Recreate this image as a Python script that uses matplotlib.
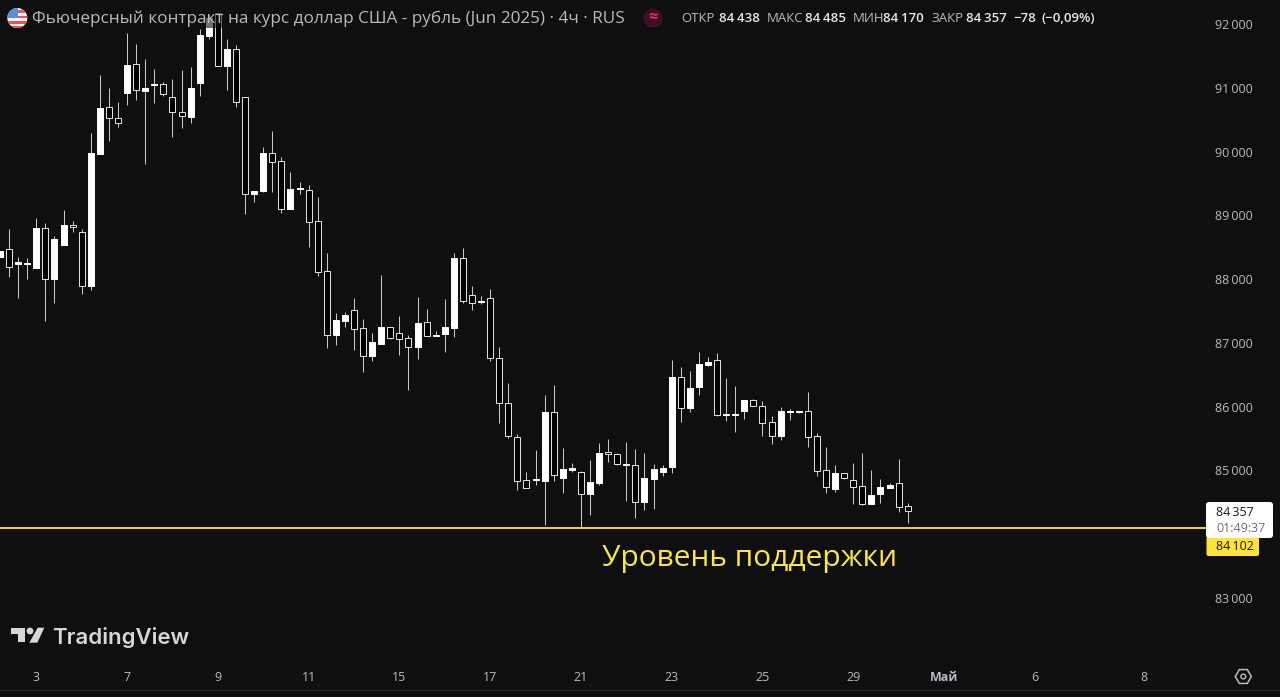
import numpy as np
import matplotlib
matplotlib.use("Agg")
import matplotlib.pyplot as plt
import matplotlib.patches as patches

# 4h candles
opens = [88341, 88466, 88242, 88242, 88169, 88796, 88007, 88534, 88843, 88733,
         87891, 89961, 90693, 90520, 90912, 91367, 90954, 91048, 91059, 90860,
         90620, 90547, 91080, 91817, 92167, 91346, 91613, 90850, 89329, 89381,
         89972, 89846, 89099, 89418, 89392, 88916, 88122, 87124, 87348, 87516,
         87228, 86799, 86982, 87244, 87150, 87076, 86930, 87333, 87108, 87139,
         87239, 88336, 87756, 87646, 87699, 86768, 86063, 85524, 84845, 84850,
         84839, 85921, 84881, 85007, 84975, 84625, 84808, 85284, 85258, 85080,
         85085, 84510, 84865, 84975, 85048, 86470, 85979, 86308, 86653, 86726,
         85869, 85869, 85926, 86104, 86005, 85754, 85545, 85911, 85911, 85932,
         85540, 85001, 84709, 84959, 84845, 84750, 84473, 84625, 84730, 84803,
         84438]
highs = [88446, 88791, 88351, 88336, 88958, 88874, 88676, 89083, 88906, 88791,
         90285, 91205, 90991, 90771, 91853, 91686, 91446, 91294, 91090, 91132,
         91278, 91331, 91916, 92141, 92177, 91765, 91670, 90850, 89386, 90076,
         90327, 89919, 89679, 89527, 89475, 89282, 88404, 87463, 87489, 87698,
         87374, 87150, 88059, 87244, 87421, 87118, 87714, 87526, 87186, 87688,
         88404, 88482, 87892, 87735, 87840, 86941, 86366, 85571, 84970, 85320,
         86183, 86334, 85347, 85122, 84986, 85164, 85425, 85488, 85268, 85446,
         85331, 85273, 85095, 85090, 86731, 86616, 86559, 86852, 86773, 86836,
         86449, 86324, 86104, 86115, 86094, 85853, 86000, 85958, 85937, 86235,
         85581, 85362, 85090, 84965, 85122, 85278, 85007, 84865, 84808, 85184,
         84485]
lows = [88341, 88027, 87709, 87996, 88169, 87348, 87620, 88534, 88743, 87766,
        87829, 89961, 90170, 90390, 90730, 90808, 89810, 90756, 90876, 90233,
        90374, 90442, 90876, 91759, 91336, 90965, 90703, 89020, 89203, 89371,
        89371, 89031, 89099, 89329, 88508, 88048, 86925, 86967, 87254, 86888,
        86543, 86716, 86982, 87056, 86815, 86261, 86742, 87108, 87108, 86862,
        87097, 87620, 87516, 87610, 86721, 85749, 85503, 84693, 84719, 84772,
        84150, 84839, 84641, 84975, 84118, 84301, 84772, 85137, 85085, 84520,
        84259, 84379, 84395, 84918, 84954, 85764, 85921, 86183, 86642, 85859,
        85780, 85608, 85806, 86010, 85540, 85414, 85477, 85791, 85900, 85362,
        84912, 84641, 84667, 84871, 84473, 84463, 84468, 84494, 84719, 84353,
        84170]
closes = [88446, 88184, 88268, 88252, 88801, 88007, 88634, 88843, 88811, 87891,
          89977, 90682, 90520, 90447, 91357, 90960, 90991, 91064, 90897, 90615,
          90562, 90991, 91822, 92089, 91336, 91613, 90771, 89334, 89381, 89972,
          89841, 89104, 89407, 89428, 88890, 88116, 87129, 87359, 87432, 87223,
          86799, 87009, 87249, 87082, 87066, 86930, 87306, 87113, 87124, 87249,
          88336, 87662, 87631, 87662, 86758, 86052, 85545, 84839, 84730, 84866,
          85921, 84923, 85017, 85038, 84625, 84819, 85268, 85252, 85096, 85101,
          84510, 84876, 85017, 85033, 86460, 85984, 86287, 86669, 86695, 85869,
          85885, 85885, 86099, 86015, 85744, 85545, 85937, 85926, 85926, 85529,
          84996, 84745, 84959, 84876, 84745, 84473, 84620, 84735, 84766, 84432,
          84357]

price_ticks = [83000, 85000, 86000, 87000, 88000, 89000, 90000, 91000, 92000]
price_labels = ["83\u2009000", "85\u2009000", "86\u2009000", "87\u2009000", "88\u2009000",
                "89\u2009000", "90\u2009000", "91\u2009000", "92\u2009000"]
date_ticks = [4, 14, 24, 34, 44, 54, 64, 74, 84, 94, 104, 114, 126]
date_labels = ["3", "7", "9", "11", "15", "17", "21", "23", "25", "29", "Май", "6", "8"]
support = 84102
last_close = "84\u2009357"
countdown = "01:49:37"
support_label = "84\u2009102"

BG = "#0f0f0f"
GREY = "#b8bbc4"
YELLOW = "#f9e64f"
plt.rcParams["font.family"] = ["Open Sans", "DejaVu Sans"]

W, H = 1280, 697
fig = plt.figure(figsize=(W / 100, H / 100), dpi=100, facecolor=BG)

# chart pane stops at the price scale (x=1206) and the time scale (y=660)
ax = fig.add_axes([0, (H - 660) / H, 1206 / W, 660 / H], facecolor=BG)
ax.set_xlim(0, 1206 / 9.077)
ax.set_ylim(92376 - 660 * 15.68, 92376)
for spine in ax.spines.values():
    spine.set_visible(False)

x = np.arange(len(opens))
o = np.array(opens)
c = np.array(closes)
up = c >= o
bottoms = np.minimum(o, c)
heights = np.abs(c - o)

ax.vlines(x, lows, highs, color="#c8c8c8", lw=0.72, zorder=2)
ax.bar(x[up], heights[up], bottom=bottoms[up], width=0.66, color="white",
       edgecolor="white", linewidth=0.7, zorder=3)
ax.bar(x[~up], heights[~up], bottom=bottoms[~up], width=0.66, color="black",
       edgecolor="#e6e6e6", linewidth=0.7, zorder=3)

ax.axhline(support, color=YELLOW, lw=1.3, zorder=4)

ax.yaxis.tick_right()
ax.set_yticks(price_ticks)
ax.set_yticklabels(price_labels, fontsize=9, color=GREY)
ax.tick_params(axis="y", length=0, pad=6.5)
ax.set_xticks(date_ticks)
ax.set_xticklabels(date_labels, fontsize=9, color=GREY)
ax.tick_params(axis="x", length=0, pad=8.2)
for lab in ax.get_xticklabels():
    if lab.get_text() == "Май":
        lab.set_fontweight("bold")

# overlay in pixel coordinates for the TradingView furniture
ov = fig.add_axes([0, 0, 1, 1], facecolor="none")
ov.set_xlim(0, W)
ov.set_ylim(H, 0)
ov.axis("off")

ov.add_patch(patches.Rectangle((30, 9), 600, 19, fc=BG, ec="none", alpha=0.6, zorder=1))

# flag
disc = patches.Circle((17.3, 18), 10, fc="#f4f4f4", ec="none", zorder=2)
ov.add_patch(disc)
for y0 in (10, 15.5, 21, 25.5):
    s = ov.add_patch(patches.Rectangle((7, y0), 21, 2.6, fc="#e8525a", ec="none", zorder=3))
    s.set_clip_path(disc)
canton = ov.add_patch(patches.Rectangle((7, 8), 10.5, 10, fc="#5b8fd9", ec="none", zorder=4))
canton.set_clip_path(disc)

ov.text(32, 18.5, "Фьючерсный контракт на курс доллар США - рубль (Jun 2025) · 4ч · RUS",
        color=GREY, fontsize=12.35, fontweight="medium", va="center", ha="left", zorder=5)

ov.add_patch(patches.Circle((653, 18), 9.5, fc="#3d1026", ec="none", zorder=2))
ov.text(653, 17, "≈", color="#d8336b", fontsize=12, fontweight="bold", ha="center", va="center", zorder=5)

head = [(681.5, "ОТКР", GREY), (719, "84\u2009438", "#e8e8e8"), (766.5, "МАКС", GREY),
        (805, "84\u2009485", "#e8e8e8"), (852.5, "МИН", GREY), (883, "84\u2009170", "#e8e8e8"),
        (931, "ЗАКР", GREY), (966, "84\u2009357", "#e8e8e8"), (1013, "\u221278", "#e8e8e8"),
        (1042, "(\u22120,09%)", "#e8e8e8")]
for hx, txt, col in head:
    ov.text(hx, 18, txt, color=col, fontsize=9.5, va="center", ha="left",
            fontweight="semibold" if col != GREY else "normal", zorder=5)

ov.text(749.5, 558.5, "Уровень поддержки", color=YELLOW, fontsize=21.5, fontweight="medium",
        ha="center", va="center")

# last price and support labels
ov.add_patch(patches.FancyBboxPatch((1208, 504), 63, 32, boxstyle="round,pad=2,rounding_size=3",
                                    fc="white", ec="none", zorder=6))
ov.add_patch(patches.FancyBboxPatch((1208, 538), 49.5, 16.5, boxstyle="round,pad=1.5,rounding_size=2",
                                    fc="#fde23a", ec="none", zorder=5))
ov.text(1216, 512, last_close, color="#1a1a1a", fontsize=9, va="center", zorder=7)
ov.text(1216, 528, countdown, color="#6a6d78", fontsize=9, va="center", zorder=7)
ov.text(1216, 547, support_label, color="#1a1a1a", fontsize=9, va="center", zorder=7)

# TradingView logo
logo = "#d6d6d6"
ov.add_patch(patches.Polygon([(10.7, 627.7), (25, 627.7), (25, 642.3), (18.3, 642.3), (18.3, 634.3), (10.7, 634.3)],
                             fc=logo, ec="none"))
ov.add_patch(patches.Circle((30, 631), 3.4, fc=logo, ec="none"))
ov.add_patch(patches.Polygon([(37.7, 627.7), (44.3, 627.7), (37.3, 642.7), (29.3, 642.7)], fc=logo, ec="none"))
ov.text(52, 638, "TradingView", color=logo, fontsize=16, fontweight="semibold",
        family=["Inter", "DejaVu Sans"], va="center", ha="left")

# settings icon
ov.add_patch(patches.RegularPolygon((1243.3, 676.5), 6, radius=8, orientation=np.pi / 2, fc="none", ec=GREY, lw=1.1))
ov.add_patch(patches.Circle((1243.3, 676.5), 2.4, fc="none", ec=GREY, lw=1.0))

ov.plot([0, W], [690, 690], color="#242424", lw=0.8)

fig.savefig("out.png", dpi=100, facecolor=BG)
plt.close()
